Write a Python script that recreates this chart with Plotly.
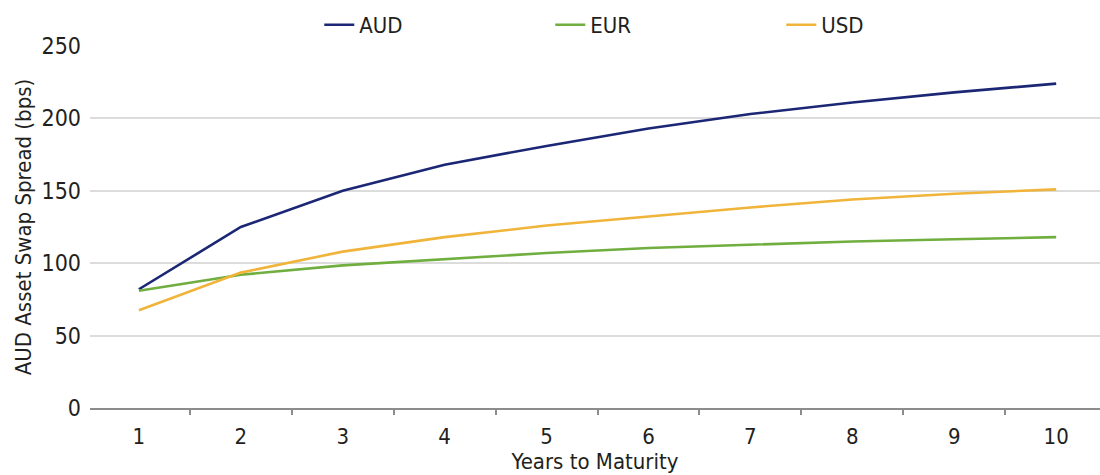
import plotly.graph_objects as go

years = [1, 2, 3, 4, 5, 6, 7, 8, 9, 10]
year_labels = ["1", "2", "3", "4", "5", "6", "7", "8", "9", "10"]
aud = [82, 125, 150, 168, 181, 193, 203, 211, 218, 224]
eur = [81, 92, 98.5, 103, 107, 110.5, 113, 115, 116.5, 118]
usd = [67.5, 93.5, 108, 118, 126, 132.5, 138.5, 144, 148, 151]
y_ticks = [0, 50, 100, 150, 200, 250]

FONT = "DejaVu Sans Condensed, Liberation Sans Narrow, sans-serif"

fig = go.Figure()
for name, vals, col in [("AUD", aud, "#1b2775"), ("EUR", eur, "#6fae3f"), ("USD", usd, "#f0b43a")]:
    fig.add_trace(go.Scatter(x=years, y=vals, mode="lines", name=name,
                             line=dict(color=col, width=2.6)))

fig.update_layout(
    width=1100, height=475,
    margin=dict(l=90, r=0, t=46, b=67, autoexpand=False),
    paper_bgcolor="white", plot_bgcolor="white",
    font=dict(family=FONT, size=22, color="#231f20"),
    showlegend=True,
    legend=dict(orientation="h", x=0.227, xanchor="left", y=1.0, yanchor="bottom",
                entrywidth=186, entrywidthmode="pixels",
                font=dict(family=FONT, size=22, color="#231f20"),
                bgcolor="rgba(0,0,0,0)"),
    xaxis=dict(range=[0.52, 10.43], tickvals=years, ticktext=year_labels,
               showgrid=False, zeroline=False, showline=True, linecolor="#8c8c8c",
               linewidth=2, ticks="", tickfont=dict(size=22), ticklabelstandoff=8,
               minor=dict(tickvals=[1.5, 2.5, 3.5, 4.5, 5.5, 6.5, 7.5, 8.5, 9.5],
                          ticks="outside", ticklen=5, tickcolor="#8c8c8c", tickwidth=1.5,
                          showgrid=False),
               title=dict(text="Years to Maturity", standoff=4, font=dict(size=22))),
    yaxis=dict(range=[0, 250], tickvals=y_ticks, showgrid=True, gridcolor="#dcdcdc",
               gridwidth=2, zeroline=False, showline=False, ticks="",
               ticklabelstandoff=8, tickfont=dict(size=23),
               title=dict(text="AUD Asset Swap Spread (bps)", standoff=3, font=dict(size=22))),
)

fig.write_html("out.html")
